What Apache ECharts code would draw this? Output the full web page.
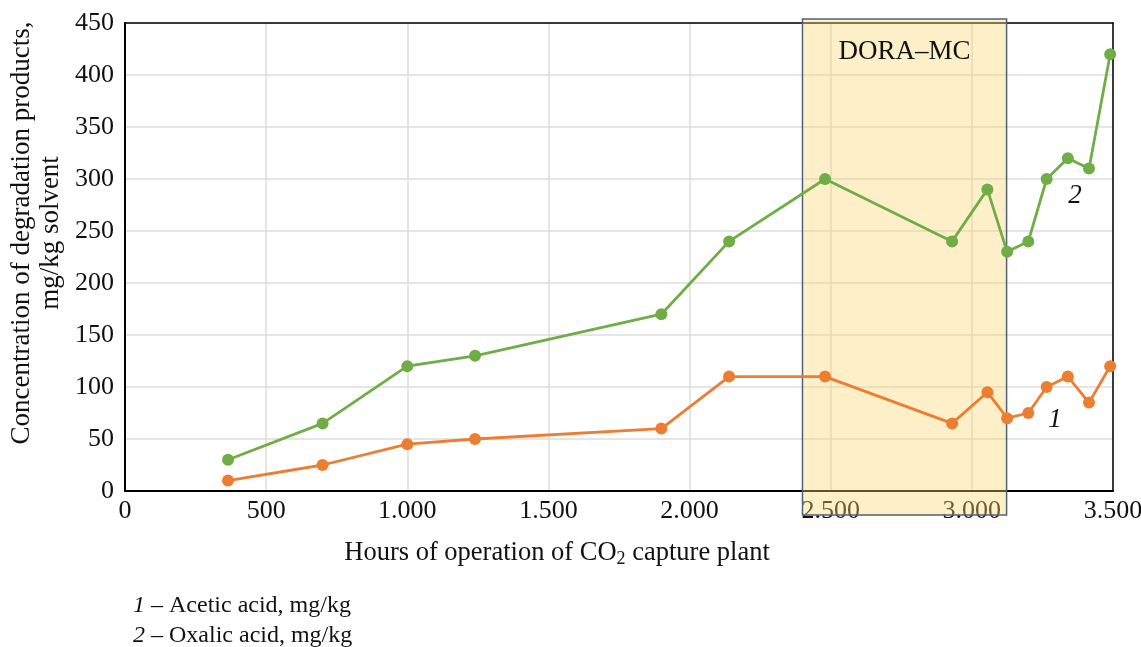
<!DOCTYPE html>
<html>
<head>
<meta charset="utf-8">
<script src="https://cdn.jsdelivr.net/npm/echarts@6/dist/echarts.min.js"></script>
<style>html,body{margin:0;padding:0;background:#fff;}#c{width:1141px;height:647px;}</style>
</head>
<body>
<div id="c"></div>
<script>
var hours = [365, 700, 1000, 1240, 1900, 2140, 2480, 2930, 3055, 3125, 3200, 3265, 3340, 3415, 3490];
var acetic = [10, 25, 45, 50, 60, 110, 110, 65, 95, 70, 75, 100, 110, 85, 120];
var oxalic = [30, 65, 120, 130, 170, 240, 300, 240, 290, 230, 240, 300, 320, 310, 420];
var doraRange = [2400, 3123];
var doraLabel = 'DORA–MC';
var yTitle = ['Concentration of degradation products,', 'mg/kg solvent'];

var FONT = '"Liberation Serif", "Times New Roman", serif';
var chart = echarts.init(document.getElementById('c'), null, {renderer: 'canvas'});

function fmt(v) {
  if (v >= 1000) { var r = v % 1000; return Math.floor(v / 1000) + '.' + String(r).padStart(3, '0'); }
  return String(v);
}
function pairs(xs, ys) { return xs.map(function (x, i) { return [x, ys[i]]; }); }

var option = {
  animation: false,
  grid: {left: 125, right: 28, top: 23, bottom: 156, outerBoundsMode: 'none', containLabel: false},
  xAxis: [{
    type: 'value', min: 0, max: 3500, interval: 500,
    axisLine: {show: true, onZero: false, lineStyle: {color: '#000', width: 2}},
    axisTick: {show: false},
    axisLabel: {color: '#111', fontFamily: FONT, fontSize: 26, margin: 7, formatter: fmt},
    splitLine: {show: true, lineStyle: {color: '#dcdcdc', width: 1.5}}
  }, {
    type: 'value', min: 0, max: 3500, interval: 500, position: 'top',
    axisLine: {show: true, onZero: false, lineStyle: {color: '#000', width: 1.5}},
    axisTick: {show: false}, axisLabel: {show: false}, splitLine: {show: false}
  }],
  yAxis: [{
    type: 'value', min: 0, max: 450, interval: 50,
    axisLine: {show: true, onZero: false, lineStyle: {color: '#000', width: 2}},
    axisTick: {show: false},
    axisLabel: {color: '#111', fontFamily: FONT, fontSize: 26, margin: 11},
    splitLine: {show: true, lineStyle: {color: '#dcdcdc', width: 1.5}}
  }, {
    type: 'value', min: 0, max: 450, interval: 50, position: 'right',
    axisLine: {show: true, onZero: false, lineStyle: {color: '#000', width: 1.5}},
    axisTick: {show: false}, axisLabel: {show: false}, splitLine: {show: false}
  }],
  series: [
    {name: 'Acetic acid', type: 'line', data: pairs(hours, acetic), color: '#ed7d31',
     symbol: 'circle', symbolSize: 12, lineStyle: {width: 2.8}, z: 3},
    {name: 'Oxalic acid', type: 'line', data: pairs(hours, oxalic), color: '#70ad47',
     symbol: 'circle', symbolSize: 12, lineStyle: {width: 2.8}, z: 3}
  ]
};
chart.setOption(option);

var p0 = chart.convertToPixel({gridIndex: 0}, [doraRange[0], 0]);
var p1 = chart.convertToPixel({gridIndex: 0}, [doraRange[1], 450]);
var rx = p0[0], rw = p1[0] - p0[0];
var rTop = p1[1] - 4, rBottom = p0[1] + 24;

chart.setOption({
  graphic: [
    {type: 'rect', z: 1, shape: {x: rx, y: rTop, width: rw, height: rBottom - rTop},
     style: {fill: 'rgba(249,215,110,0.38)', stroke: '#4f627a', lineWidth: 1.5}},
    {type: 'text', z: 5, x: rx + rw / 2, y: 52,
     style: {text: doraLabel, fontFamily: FONT, fontSize: 27, fill: '#111', textAlign: 'center', textVerticalAlign: 'middle'}},
    {type: 'text', z: 5, x: 22, y: 233, rotation: Math.PI / 2,
     style: {text: yTitle[0], fontFamily: FONT, fontSize: 27, fill: '#111', textAlign: 'center', textVerticalAlign: 'middle'}},
    {type: 'text', z: 5, x: 51, y: 233, rotation: Math.PI / 2,
     style: {text: yTitle[1], fontFamily: FONT, fontSize: 27, fill: '#111', textAlign: 'center', textVerticalAlign: 'middle'}},
    {type: 'text', z: 5, x: 557, y: 553,
     style: {text: '{n|Hours of operation of CO}{s|2}{n| capture plant}', textAlign: 'center', textVerticalAlign: 'middle',
       rich: {n: {fontFamily: FONT, fontSize: 26.5, fill: '#111'}, s: {fontFamily: FONT, fontSize: 18, fill: '#111', padding: [12, 0, 0, 0]}}}},
    {type: 'text', z: 5, x: 1075, y: 196,
     style: {text: '2', fontFamily: FONT, fontSize: 27, fontStyle: 'italic', fill: '#111', textAlign: 'center', textVerticalAlign: 'middle'}},
    {type: 'text', z: 5, x: 1055, y: 420,
     style: {text: '1', fontFamily: FONT, fontSize: 27, fontStyle: 'italic', fill: '#111', textAlign: 'center', textVerticalAlign: 'middle'}},
    {type: 'text', z: 5, x: 133, y: 606,
     style: {text: '{i|1}{n| – Acetic acid, mg/kg}', textAlign: 'left', textVerticalAlign: 'middle',
       rich: {i: {fontFamily: FONT, fontSize: 24, fontStyle: 'italic', fill: '#111'}, n: {fontFamily: FONT, fontSize: 24, fill: '#111'}}}},
    {type: 'text', z: 5, x: 133, y: 636,
     style: {text: '{i|2}{n| – Oxalic acid, mg/kg}', textAlign: 'left', textVerticalAlign: 'middle',
       rich: {i: {fontFamily: FONT, fontSize: 24, fontStyle: 'italic', fill: '#111'}, n: {fontFamily: FONT, fontSize: 24, fill: '#111'}}}}
  ]
});
</script>
</body>
</html>
